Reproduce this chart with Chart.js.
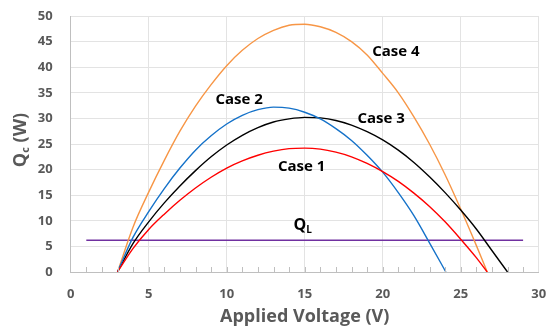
<!DOCTYPE html>
<html>
<head>
<meta charset="utf-8">
<script src="https://cdn.jsdelivr.net/npm/chart.js@4.4.0/dist/chart.umd.min.js"></script>
<style>
  html, body { margin: 0; padding: 0; background: #fff; }
  #wrap { width: 549px; height: 329px; }
</style>
</head>
<body>
<div id="wrap"><canvas id="grafica"></canvas></div>
<script>
// values (Applied Voltage V -> Qc W)
const case1X = [3, 4, 5, 6, 7, 8, 9, 10, 11, 12, 13, 14, 15, 16, 17, 18, 19, 20, 21, 22, 23, 24, 25, 26, 26.7];
const case1Y = [0, 4.6, 8.3, 11.3, 14.0, 16.4, 18.5, 20.3, 21.7, 22.8, 23.6, 24.1, 24.2, 24.0, 23.4, 22.5, 21.2, 19.6, 17.7, 15.4, 12.8, 9.8, 6.4, 2.8, 0];

const case2X = [3, 4, 5, 6, 7, 8, 9, 10, 11, 12, 13, 14, 15, 16, 17, 18, 19, 20, 21, 22, 23, 24.05];
const case2Y = [0, 6.8, 11.8, 16.3, 20.3, 23.8, 26.6, 28.9, 30.6, 31.7, 32.2, 32.0, 31.2, 29.9, 28.0, 25.7, 22.8, 19.5, 15.5, 11.0, 5.7, 0];

const case3X = [3, 4, 5, 6, 7, 8, 9, 10, 11, 12, 13, 14, 15, 16, 17, 18, 19, 20, 21, 22, 23, 24, 25, 26, 27, 28];
const case3Y = [0, 5.6, 9.8, 13.5, 16.8, 19.8, 22.5, 24.8, 26.7, 28.2, 29.3, 29.9, 30.2, 30.1, 29.6, 28.7, 27.4, 25.8, 23.8, 21.4, 18.6, 15.5, 12.1, 8.4, 4.2, 0];

const case4X = [3, 4, 5, 6, 7, 8, 9, 10, 11, 12, 13, 14, 15, 16, 17, 18, 19, 20, 21, 22, 23, 24, 25, 26, 26.7];
const case4Y = [0, 8.8, 15.6, 21.8, 27.5, 32.4, 36.6, 40.3, 43.3, 45.6, 47.2, 48.2, 48.4, 47.9, 46.8, 45.0, 42.4, 38.8, 35.0, 30.3, 25.0, 19.0, 12.3, 5.2, 0];

const qlX = [1, 29];
const qlY = [6.2, 6.2];

const xTicks = [0, 5, 10, 15, 20, 25, 30];
const yTicks = [0, 5, 10, 15, 20, 25, 30, 35, 40, 45, 50];

const pts = (xs, ys) => xs.map((x, i) => ({ x: x, y: ys[i] }));

const lineStyle = (label, xs, ys, color) => ({
    label: label,
    data: pts(xs, ys),
    borderColor: color,
    backgroundColor: color,
    borderWidth: 1.4,
    pointRadius: 0,
    tension: 0.4,
    cubicInterpolationMode: 'monotone',
    fill: false
});

const FONT = "'Open Sans', 'Noto Sans', sans-serif";
const GRAY = '#595959';

// text labels on the plot + axis titles + little minor ticks
const extras = {
    id: 'extras',
    afterDatasetsDraw(chart) {
        const c = chart.ctx;
        const xs = chart.scales.x, ys = chart.scales.y;
        const area = chart.chartArea;

        // minor ticks on the x axis
        c.save();
        c.strokeStyle = '#bfbfbf';
        c.lineWidth = 1;
        for (let v = 1; v < 30; v++) {
            const px = Math.round(xs.getPixelForValue(v)) + 0.5;
            c.beginPath();
            c.moveTo(px, area.bottom);
            c.lineTo(px, area.bottom - 5);
            c.stroke();
        }
        c.restore();

        c.save();
        c.fillStyle = '#000';
        c.textBaseline = 'middle';
        c.textAlign = 'center';
        c.font = 'bold 15px ' + FONT;
        const lab = [['Case 1', 14.8, 20.5], ['Case 2', 10.8, 33.6], ['Case 3', 19.9, 29.9], ['Case 4', 20.85, 43.0]];
        lab.forEach(l => c.fillText(l[0], xs.getPixelForValue(l[1]), ys.getPixelForValue(l[2])));

        // Q_L
        const qx = xs.getPixelForValue(14.8), qy = ys.getPixelForValue(9.0);
        c.textAlign = 'left';
        c.font = 'bold 16px ' + FONT;
        c.fillText('Q', qx - 8, qy);
        const qw = c.measureText('Q').width;
        c.font = 'bold 10px ' + FONT;
        c.fillText('L', qx - 8 + qw, qy + 4);
        c.restore();

        // x axis title
        c.save();
        c.fillStyle = GRAY;
        c.font = 'bold 18px ' + FONT;
        c.textAlign = 'center';
        c.textBaseline = 'middle';
        c.fillText('Applied Voltage (V)', (area.left + area.right) / 2, 317);
        c.restore();

        // y axis title, rotated, with subscript
        c.save();
        c.translate(21, 140);
        c.rotate(-Math.PI / 2);
        c.fillStyle = GRAY;
        c.textBaseline = 'middle';
        c.textAlign = 'left';
        c.font = 'bold 18px ' + FONT;
        const w1 = c.measureText('Q').width;
        c.font = 'bold 11px ' + FONT;
        const w2 = c.measureText('c').width;
        c.font = 'bold 18px ' + FONT;
        const w3 = c.measureText(' (W)').width;
        let sx = -(w1 + w2 + w3) / 2;
        c.fillText('Q', sx, 0);
        c.font = 'bold 11px ' + FONT;
        c.fillText('c', sx + w1, 5);
        c.font = 'bold 18px ' + FONT;
        c.fillText(' (W)', sx + w1 + w2, 0);
        c.restore();
    }
};

const ctx = document.getElementById('grafica').getContext('2d');

const config = {
    type: 'line',
    data: {
        datasets: [
            lineStyle('Case 1', case1X, case1Y, '#ff0000'),
            lineStyle('Case 2', case2X, case2Y, '#1572c9'),
            lineStyle('Case 3', case3X, case3Y, '#000000'),
            lineStyle('Case 4', case4X, case4Y, '#f79646'),
            lineStyle('QL', qlX, qlY, '#7030a0')
        ]
    },
    options: {
        responsive: true,
        maintainAspectRatio: false,
        animation: false,
        layout: { padding: { top: 16, right: 10.3, left: 0, bottom: 0 } },
        plugins: {
            legend: { display: false },
            tooltip: { enabled: false }
        },
        scales: {
            x: {
                type: 'linear',
                min: 0,
                max: 30,
                afterBuildTicks: s => { s.ticks = xTicks.map(v => ({ value: v })); },
                afterFit: s => { s.height = 57; s.paddingLeft = 0; s.paddingRight = 0; },
                grid: { color: '#e3e3e3', drawTicks: false },
                border: { color: '#bfbfbf' },
                ticks: { color: GRAY, font: { family: FONT, size: 13, weight: 'bold' }, padding: 14, maxRotation: 0 }
            },
            y: {
                min: 0,
                max: 50,
                afterBuildTicks: s => { s.ticks = yTicks.map(v => ({ value: v })); },
                afterFit: s => { s.width = 70.7; s.paddingTop = 0; s.paddingBottom = 0; },
                grid: { color: '#e3e3e3', drawTicks: false },
                border: { color: '#bfbfbf' },
                ticks: { color: GRAY, font: { family: FONT, size: 13, weight: 'bold' }, padding: 18 }
            }
        }
    },
    plugins: [extras]
};

const myChart = new Chart(ctx, config);
</script>
</body>
</html>
